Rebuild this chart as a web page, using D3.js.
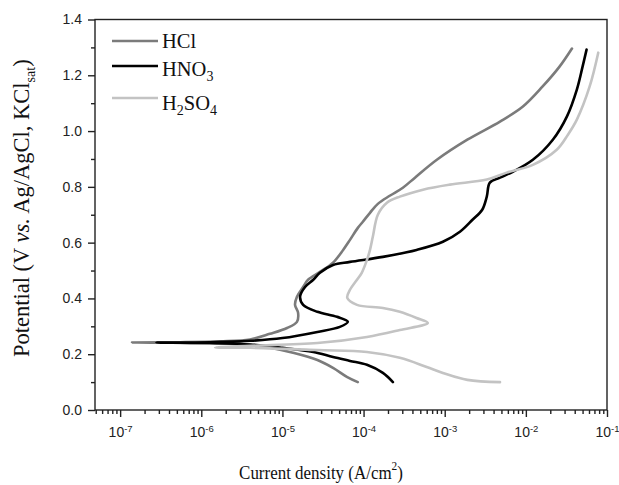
<!DOCTYPE html>
<html>
<head>
<meta charset="utf-8">
<script src="https://d3js.org/d3.v7.min.js"></script>
<style>
  body { margin: 0; background: #fff; }
  .axis path, .axis line { stroke: #222; stroke-width: 1.4; }
  .axis text { font-family: "Liberation Sans", Arial, sans-serif; font-size: 14px; fill: #222; }
  .title { font-family: "Liberation Serif", "Times New Roman", serif; fill: #111; }
  .leg { font-family: "Liberation Serif", "Times New Roman", serif; font-size: 20.5px; fill: #111; }
</style>
</head>
<body>
<div id="chart-container"></div>
<script>
// polarisation curves, [current density A/cm2, potential V]
const hcl = [
  [8.5e-5, 0.100], [6.3e-5, 0.118], [4.2e-5, 0.151], [2.7e-5, 0.179], [1.35e-5, 0.205],
  [7.0e-6, 0.223], [4.0e-6, 0.233], [1.7e-6, 0.239], [5.5e-7, 0.241], [1.4e-7, 0.242],
  [5.5e-7, 0.243], [1.7e-6, 0.246], [4.0e-6, 0.253], [7.0e-6, 0.273], [1.14e-5, 0.294],
  [1.51e-5, 0.316], [1.56e-5, 0.348], [1.43e-5, 0.377], [1.51e-5, 0.406], [1.8e-5, 0.441],
  [2.07e-5, 0.467], [2.9e-5, 0.495], [4.2e-5, 0.528], [5.6e-5, 0.574], [6.8e-5, 0.610],
  [8.5e-5, 0.653], [9.8e-5, 0.675], [1.2e-4, 0.707], [1.5e-4, 0.739], [2.1e-4, 0.768],
  [3.05e-4, 0.797], [4.3e-4, 0.833], [8.0e-4, 0.897], [1.9e-3, 0.969], [4.8e-3, 1.034],
  [9.2e-3, 1.088], [1.6e-2, 1.159], [2.6e-2, 1.231], [3.7e-2, 1.296]
];
const hno3 = [
  [2.3e-4, 0.100], [1.73e-4, 0.133], [1.1e-4, 0.162], [6.8e-5, 0.176], [4.2e-5, 0.190],
  [2.4e-5, 0.208], [1.0e-5, 0.223], [4.0e-6, 0.235], [1.28e-6, 0.240], [2.8e-7, 0.242],
  [1.28e-6, 0.243], [4.0e-6, 0.248], [1.0e-5, 0.258], [2.7e-5, 0.280], [5.1e-5, 0.298],
  [6.4e-5, 0.316], [4.7e-5, 0.334], [2.7e-5, 0.352], [1.8e-5, 0.377], [1.65e-5, 0.406],
  [1.9e-5, 0.441], [2.4e-5, 0.467], [2.9e-5, 0.492], [4.2e-5, 0.520], [6.8e-5, 0.531],
  [1.73e-4, 0.549], [4.5e-4, 0.574], [9.5e-4, 0.603], [1.54e-3, 0.639], [2.2e-3, 0.682],
  [2.9e-3, 0.718], [3.3e-3, 0.765], [3.6e-3, 0.815], [4.8e-3, 0.833], [6.9e-3, 0.854],
  [1.22e-2, 0.897], [2.15e-2, 0.969], [3.2e-2, 1.052], [4.25e-2, 1.149], [5.0e-2, 1.231],
  [5.6e-2, 1.292]
];
const h2so4 = [
  [4.8e-3, 0.100], [1.9e-3, 0.108], [9.5e-4, 0.133], [6.0e-4, 0.154], [2.8e-4, 0.187],
  [1.1e-4, 0.208], [2.7e-5, 0.215], [4.0e-6, 0.223], [1.48e-6, 0.224],
  [4.0e-6, 0.230], [2.7e-5, 0.240], [1.1e-4, 0.262], [2.8e-4, 0.287], [6.2e-4, 0.312],
  [4.5e-4, 0.330], [2.8e-4, 0.352], [1.73e-4, 0.366], [8.3e-5, 0.377], [6.3e-5, 0.402],
  [6.8e-5, 0.431], [8.3e-5, 0.467], [9.5e-5, 0.492], [1.1e-4, 0.538], [1.2e-4, 0.574],
  [1.3e-4, 0.621], [1.5e-4, 0.700], [1.94e-4, 0.743], [2.8e-4, 0.765], [5.4e-4, 0.790],
  [1.16e-3, 0.808], [3.3e-3, 0.826], [5.8e-3, 0.851], [1.22e-2, 0.879], [2.4e-2, 0.933],
  [3.3e-2, 0.987], [4.25e-2, 1.041], [6.1e-2, 1.159], [7.8e-2, 1.281]
];

const seriesNames = ["HCl", "HNO3", "H2SO4"];
const seriesColors = ["#7b7b7b", "#000000", "#c3c3c3"];
const xExponents = [-7, -6, -5, -4, -3, -2, -1];
const yTicks = [0.0, 0.2, 0.4, 0.6, 0.8, 1.0, 1.2, 1.4];

const width = 619, height = 485;
const margin = { left: 95, top: 19.5, right: 12, bottom: 75 };
const innerW = width - margin.left - margin.right;
const innerH = height - margin.top - margin.bottom;

const svg = d3.select("#chart-container")
  .append("svg")
  .attr("width", width)
  .attr("height", height);

const chart = svg.append("g").attr("transform", `translate(${margin.left}, ${margin.top})`);

const x = d3.scaleLog().domain([4.9e-8, 0.1]).range([0, innerW]);
const y = d3.scaleLinear().domain([0, 1.4]).range([innerH, 0]);

// minor ticks
const minorX = [];
for (let e = -8; e <= -2; e++) {
  for (let k = 2; k <= 9; k++) {
    const v = k * Math.pow(10, e);
    if (v >= x.domain()[0] && v < x.domain()[1]) minorX.push(v);
  }
}
const minorY = d3.range(0.1, 1.4, 0.2);

chart.append("g")
  .attr("class", "axis")
  .attr("transform", `translate(0, ${innerH})`)
  .call(d3.axisBottom(x).tickValues(minorX).tickSize(4).tickFormat(""))
  .call(g => g.select(".domain").remove());

const xAxis = chart.append("g")
  .attr("class", "axis")
  .attr("transform", `translate(0, ${innerH})`)
  .call(d3.axisBottom(x).tickValues(xExponents.map(e => Math.pow(10, e))).tickSize(7).tickPadding(10).tickFormat(""))
  .call(g => g.select(".domain").remove());

// 10^n labels with superscript
xAxis.selectAll(".tick text")
  .each(function (d, i) {
    const t = d3.select(this);
    t.append("tspan").text("10");
    t.append("tspan").attr("dy", -5).style("font-size", "9.5px").text(xExponents[i]);
  });

chart.append("g")
  .attr("class", "axis")
  .call(d3.axisLeft(y).tickValues(minorY).tickSize(4).tickFormat(""))
  .call(g => g.select(".domain").remove());

chart.append("g")
  .attr("class", "axis")
  .call(d3.axisLeft(y).tickValues(yTicks).tickSize(7).tickPadding(6).tickFormat(d3.format(".1f")))
  .call(g => g.select(".domain").remove());

// frame
chart.append("rect")
  .attr("x", 0).attr("y", 0)
  .attr("width", innerW).attr("height", innerH)
  .attr("fill", "none")
  .attr("stroke", "#222")
  .attr("stroke-width", 1.4);

// curves
const line = d3.line()
  .x(d => x(d[0]))
  .y(d => y(d[1]))
  .curve(d3.curveCatmullRom.alpha(0.5));

[hcl, hno3, h2so4].forEach((s, i) => {
  chart.append("path")
    .datum(s)
    .attr("fill", "none")
    .attr("stroke", seriesColors[i])
    .attr("stroke-width", 2.6)
    .attr("stroke-linejoin", "round")
    .attr("stroke-linecap", "round")
    .attr("d", line);
});

// legend
const legLineY = [41, 66, 98];
const legTextY = [48, 76, 110];
const legend = svg.append("g");
seriesNames.forEach((name, i) => {
  legend.append("line")
    .attr("x1", 112).attr("x2", 158)
    .attr("y1", legLineY[i]).attr("y2", legLineY[i])
    .attr("stroke", seriesColors[i])
    .attr("stroke-width", 2.6);
  const t = legend.append("text")
    .attr("class", "leg")
    .attr("x", 162)
    .attr("y", legTextY[i]);
  // digits become subscripts
  const parts = name.match(/[A-Za-z]+|\d+/g);
  let sub = false;
  parts.forEach(p => {
    const isNum = /\d/.test(p);
    const ts = t.append("tspan").text(p);
    if (isNum && !sub) { ts.attr("dy", 5).style("font-size", "14px"); sub = true; }
    else if (!isNum && sub) { ts.attr("dy", -5); sub = false; }
    else if (isNum) { ts.style("font-size", "14px"); }
  });
});

// axis titles
svg.append("text")
  .attr("class", "title")
  .style("font-size", "19.5px")
  .attr("transform", "translate(321, 479) scale(0.87, 1)")
  .attr("text-anchor", "middle")
  .call(t => {
    t.append("tspan").text("Current density (A/cm");
    t.append("tspan").attr("dy", -9).style("font-size", "13px").text("2");
    t.append("tspan").attr("dy", 9).text(")");
  });

// y title starts level with the 0.2 tick and runs upward
svg.append("text")
  .attr("class", "title")
  .style("font-size", "22.5px")
  .attr("transform", "translate(29, 0) rotate(-90)")
  .attr("x", -357)
  .call(t => {
    t.append("tspan").text("Potential (V ");
    t.append("tspan").style("font-style", "italic").text("vs.");
    t.append("tspan").text(" Ag/AgCl, KCl");
    t.append("tspan").attr("dy", 6).style("font-size", "14px").text("sat");
    t.append("tspan").attr("dy", -6).text(")");
  });
</script>
</body>
</html>
